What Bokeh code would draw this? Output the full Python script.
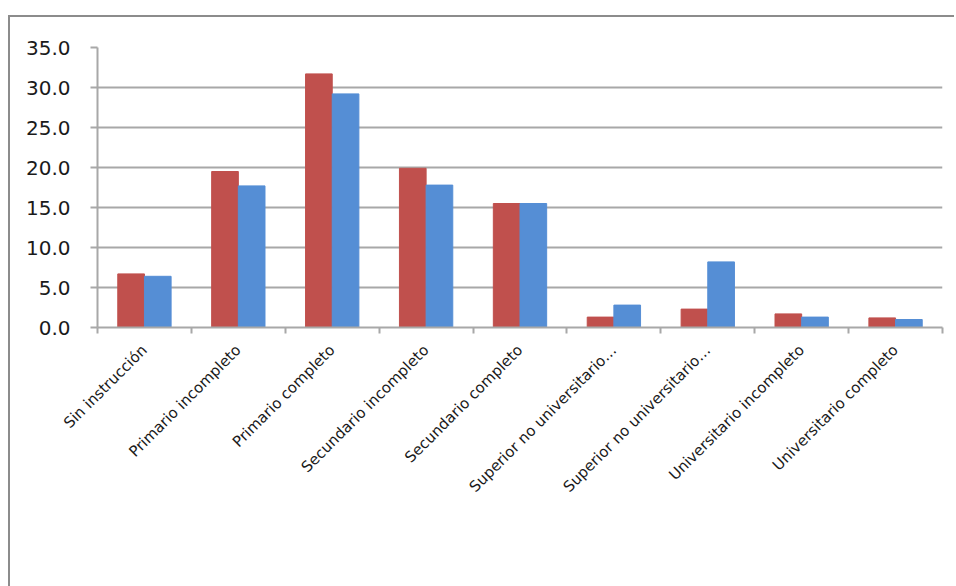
from math import pi
from bokeh.plotting import figure
from bokeh.models import (Range1d, LinearAxis, FixedTicker, Legend, LegendItem,
                          ColumnDataSource, NumeralTickFormatter)
from bokeh.embed import file_html
from bokeh.resources import INLINE

categories = ["Sin instrucción", "Primario incompleto", "Primario completo",
              "Secundario incompleto", "Secundario completo",
              "Superior no universitario…", "Superior no universitario…",
              "Universitario incompleto", "Universitario completo"]
varones = [6.7, 19.5, 31.7, 19.9, 15.5, 1.3, 2.3, 1.7, 1.2]
mujeres = [6.4, 17.7, 29.2, 17.8, 15.5, 2.8, 8.2, 1.3, 1.0]
y_ticks = [0, 5, 10, 15, 20, 25, 30, 35]
series_names = ["Varones", "Mujeres"]

RED = "#C0504D"
BLUE = "#558ED5"
GRID = "#A8A8A8"
FONT = "DejaVu Sans"

n = len(categories)
w = 0.284
centers = [i + 0.5 for i in range(n)]
src = ColumnDataSource(dict(
    xv=[c - w / 2 for c in centers], xm=[c + w / 2 for c in centers],
    varones=varones, mujeres=mujeres))

p = figure(frame_width=845, frame_height=280,
           x_range=Range1d(0, n), y_range=Range1d(0, 35),
           min_border_left=87, min_border_top=30, min_border_right=12, min_border_bottom=10,
           output_backend="svg", toolbar_location=None)
p.styles = {"border-top": "2px solid #8c8c8c", "border-left": "2px solid #8c8c8c",
            "margin-top": "15px", "margin-left": "8px", "box-sizing": "content-box"}
p.outline_line_color = None
p.background_fill_color = "white"
p.border_fill_color = "white"

# bottom axis: ticks at category boundaries, no labels
xa = p.xaxis[0]
xa.ticker = FixedTicker(ticks=list(range(n + 1)))
xa.major_label_overrides = {i: "" for i in range(n + 1)}
xa.major_tick_in = 0
xa.major_tick_out = 6
xa.minor_tick_line_color = None
xa.axis_line_color = GRID
xa.axis_line_width = 2
xa.major_tick_line_color = GRID
xa.major_tick_line_width = 2
xa.major_label_text_font_size = "1px"
xa.major_label_standoff = 0

cax = LinearAxis(ticker=FixedTicker(ticks=centers))
cax.major_label_overrides = {c: l for c, l in zip(centers, categories)}
cax.axis_line_color = None
cax.major_tick_line_color = None
cax.minor_tick_line_color = None
cax.major_label_orientation = pi / 4
cax.major_label_text_font = FONT
cax.major_label_text_font_size = "15px"
cax.major_label_text_color = "#1a1a1a"
cax.major_label_standoff = 8
p.add_layout(cax, "below")

ya = p.yaxis[0]
ya.ticker = FixedTicker(ticks=y_ticks)
ya.formatter = NumeralTickFormatter(format="0.0")
ya.major_tick_in = 0
ya.major_tick_out = 7
ya.minor_tick_line_color = None
ya.axis_line_color = GRID
ya.axis_line_width = 2
ya.major_tick_line_color = GRID
ya.major_tick_line_width = 2
ya.major_label_text_font = FONT
ya.major_label_text_font_size = "20px"
ya.major_label_text_color = "#1a1a1a"
ya.major_label_standoff = 20

p.xgrid.visible = False
p.ygrid.ticker = FixedTicker(ticks=y_ticks)
p.ygrid.grid_line_color = GRID
p.ygrid.grid_line_width = 2

r1 = p.vbar(x="xv", top="varones", width=w, source=src,
            fill_color=RED, line_color=RED, line_width=1)
r2 = p.vbar(x="xm", top="mujeres", width=w, source=src,
            fill_color=BLUE, line_color=BLUE, line_width=1)

legend = Legend(items=[LegendItem(label=series_names[0], renderers=[r1]),
                       LegendItem(label=series_names[1], renderers=[r2])],
                location=(276, 0), orientation="horizontal",
                glyph_width=13, glyph_height=13, label_standoff=7, spacing=22,
                padding=0, margin=0, border_line_color=None, background_fill_alpha=0,
                label_text_font=FONT, label_text_font_size="20px", label_text_color="#1a1a1a")
p.add_layout(legend, "below")

open("out.html", "w").write(file_html(p, INLINE))
